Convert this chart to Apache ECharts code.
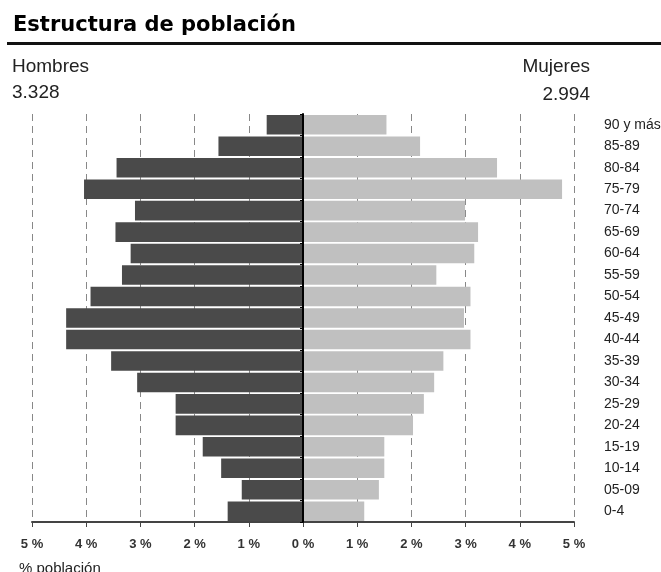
<!DOCTYPE html>
<html>
<head>
<meta charset="utf-8">
<title>Estructura de población</title>
<script src="https://cdn.jsdelivr.net/npm/echarts@6/dist/echarts.min.js"></script>
<style>
    html, body { margin: 0; padding: 0; background: #fff; overflow: hidden; }
    #chart { width: 661px; height: 572px; }
</style>
</head>
<body>
<div id="chart"></div>
<script type="text/javascript">
    // grupos de edad, de arriba a abajo
    var categories = ['90 y más', '85-89', '80-84', '75-79', '70-74', '65-69', '60-64', '55-59', '50-54',
        '45-49', '40-44', '35-39', '30-34', '25-29', '20-24', '15-19', '10-14', '05-09', '0-4'];
    // % población
    var hombres = [0.67, 1.56, 3.44, 4.04, 3.10, 3.46, 3.18, 3.34, 3.92,
        4.37, 4.37, 3.54, 3.06, 2.35, 2.35, 1.85, 1.51, 1.13, 1.39];
    var mujeres = [1.54, 2.16, 3.58, 4.78, 2.99, 3.23, 3.16, 2.46, 3.09,
        2.97, 3.09, 2.59, 2.42, 2.23, 2.03, 1.50, 1.50, 1.40, 1.13];
    var totalHombres = '3.328';
    var totalMujeres = '2.994';

    var font = "'Liberation Sans', Arial, sans-serif";
    var chart = echarts.init(document.getElementById('chart'));

    chart.setOption({
        animation: false,
        textStyle: { fontFamily: font },
        grid: { left: 32, right: 87, top: 114, bottom: 50, outerBoundsMode: 'none', containLabel: false },
        graphic: [
            { type: 'text', x: 13, y: 26, style: { text: 'Estructura de población', fill: '#000', font: "bold 21px 'DejaVu Sans', sans-serif", verticalAlign: 'middle' } },
            { type: 'rect', shape: { x: 7, y: 42, width: 654, height: 3 }, style: { fill: '#111' } },
            { type: 'text', x: 12, y: 67, style: { text: 'Hombres', fill: '#222', font: '19px ' + font, verticalAlign: 'middle' } },
            { type: 'text', x: 12, y: 93, style: { text: totalHombres, fill: '#222', font: '19px ' + font, verticalAlign: 'middle' } },
            { type: 'text', x: 590, y: 67, style: { text: 'Mujeres', fill: '#222', font: '19px ' + font, align: 'right', verticalAlign: 'middle' } },
            { type: 'text', x: 590, y: 95, style: { text: totalMujeres, fill: '#222', font: '19px ' + font, align: 'right', verticalAlign: 'middle' } },
            { type: 'text', x: 19, y: 569, style: { text: '% población', fill: '#222', font: '15px ' + font, verticalAlign: 'middle' } }
        ],
        xAxis: {
            type: 'value',
            min: -5,
            max: 5,
            interval: 1,
            axisLine: { show: true, onZero: false, lineStyle: { color: '#444', width: 2 } },
            axisTick: { show: true, length: 5, lineStyle: { color: '#444' } },
            axisLabel: {
                margin: 16,
                fontSize: 13,
                fontWeight: 'bold',
                color: '#333',
                formatter: function (v) { return Math.abs(v) + ' %'; }
            },
            splitLine: { show: true, lineStyle: { color: '#888', type: [7, 5], width: 1 } }
        },
        yAxis: [
            {
                type: 'category',
                data: categories,
                inverse: true,
                z: 5,
                axisLine: { show: true, onZero: true, lineStyle: { color: '#000', width: 2 } },
                axisTick: { show: true, length: 3, lineStyle: { color: '#000' } },
                axisLabel: { show: false },
                splitLine: { show: false }
            },
            {
                type: 'category',
                data: categories,
                inverse: true,
                position: 'right',
                axisLine: { show: false },
                axisTick: { show: false },
                axisLabel: { margin: 30, fontSize: 14, color: '#222' },
                splitLine: { show: false }
            }
        ],
        series: [
            {
                name: 'Hombres',
                type: 'bar',
                yAxisIndex: 0,
                data: hombres.map(function (v) { return -v; }),
                barGap: '-100%',
                barCategoryGap: '9%',
                itemStyle: { color: '#4a4a4a' }
            },
            {
                name: 'Mujeres',
                type: 'bar',
                yAxisIndex: 0,
                data: mujeres,
                barGap: '-100%',
                barCategoryGap: '9%',
                itemStyle: { color: '#c0c0c0' }
            }
        ]
    });
</script>
</body>
</html>
